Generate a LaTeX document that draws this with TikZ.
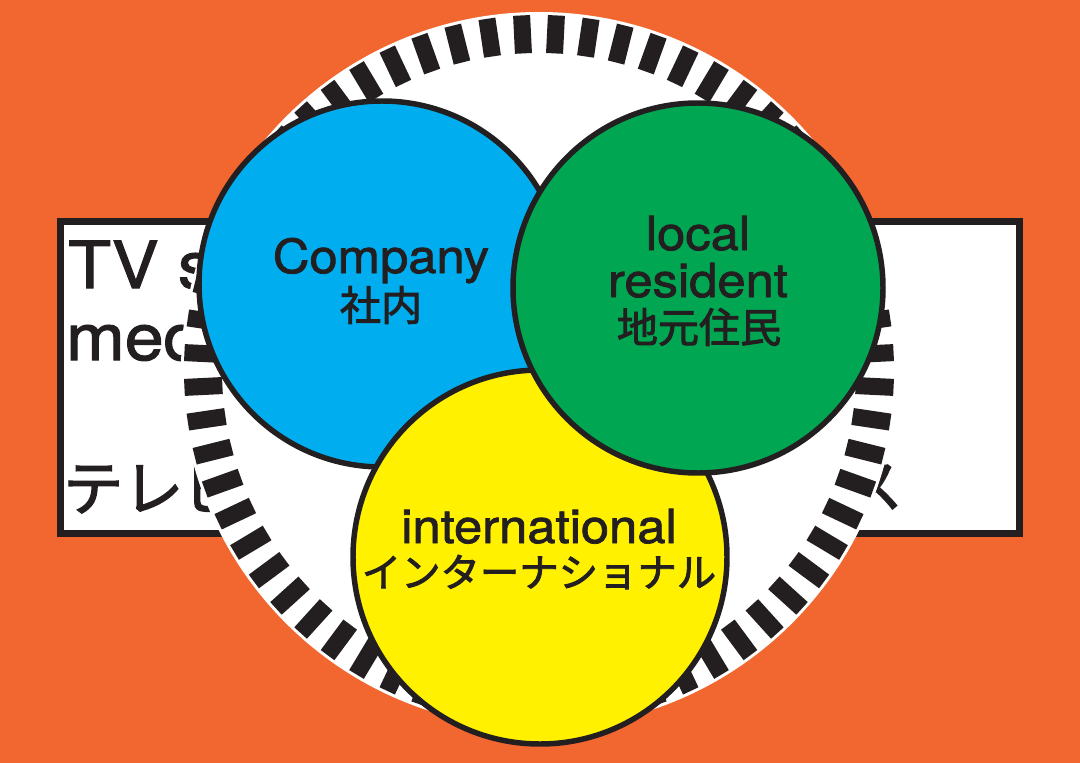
\documentclass[tikz,border=0pt]{standalone}
\usepackage{fontspec}
\setmainfont{TeX Gyre Heros}[FakeStretch=1.08, FakeBold=1.6]
\newfontfamily\jp{Noto Sans CJK JP}[FakeBold=2.2]
\definecolor{bg}{HTML}{F26730}
\definecolor{ink}{HTML}{231F20}
\definecolor{cblue}{HTML}{00AEEF}
\definecolor{cgreen}{HTML}{00A651}
\definecolor{cyellow}{HTML}{FFF100}
\begin{document}
\begin{tikzpicture}[x=0.025cm,y=-0.025cm,
  bigtxt/.style={inner sep=0pt, text=ink, font=\fontsize{46.2pt}{50pt}\selectfont},
  bigjp/.style={inner sep=0pt, text=ink, font=\jp\fontsize{42.7pt}{46pt}\selectfont},
  lab/.style={inner sep=0pt, text=ink, anchor=base, font=\fontsize{33.4pt}{36pt}\selectfont},
  labjp/.style={inner sep=0pt, text=ink, font=\jp\fontsize{29.2pt}{32pt}\selectfont},
  circ/.style={draw=ink, line width=3.9pt},
  tick/.style={draw=ink, line width=12.1pt}]
\fill[bg] (0,0) rectangle (1080,763);
\useasboundingbox (0,0) rectangle (1080,763);
% white panel
\draw[draw=ink, line width=5pt, fill=white] (60.5,221.5) rectangle (1019.5,533.5);
\node[bigtxt, anchor=base west] (tv) at (68,288) {TV s};
\node[bigtxt, anchor=base west] (med) at (66,360) {med};
\node[bigjp, anchor=west] (tele) at (63,487) {テレビ};
\node[bigjp, anchor=east] (su) at (903,487) {ス};
% big white disc with tick ring
\coordinate (c) at (539,370);
\fill[white] (c) circle[radius=358];
\foreach \i in {0,...,63}{
  \draw[tick, shift={(c)}] (92.8125+\i*5.625:317) -- (92.8125+\i*5.625:355);
}
% three circles
\draw[circ, fill=cblue] (382,284) circle[radius=183];
\draw[circ, fill=cyellow] (540,557) circle[radius=187];
\draw[circ, fill=cgreen] (698,288) circle[radius=185];
% labels
\node[lab] (comp) at (381,273) {Company};
\node[labjp] (shanai) at (381,305) {社内};
\node[lab] (local) at (698,250) {local};
\node[lab] (resid) at (698,297) {resident};
\node[labjp] (jimoto) at (699,327) {地元住民};
\node[lab] (intl) at (539,543) {international};
\node[labjp, font=\jp\fontsize{28pt}{30pt}\selectfont] (intljp) at (539,572) {インターナショナル};
\end{tikzpicture}
\end{document}
